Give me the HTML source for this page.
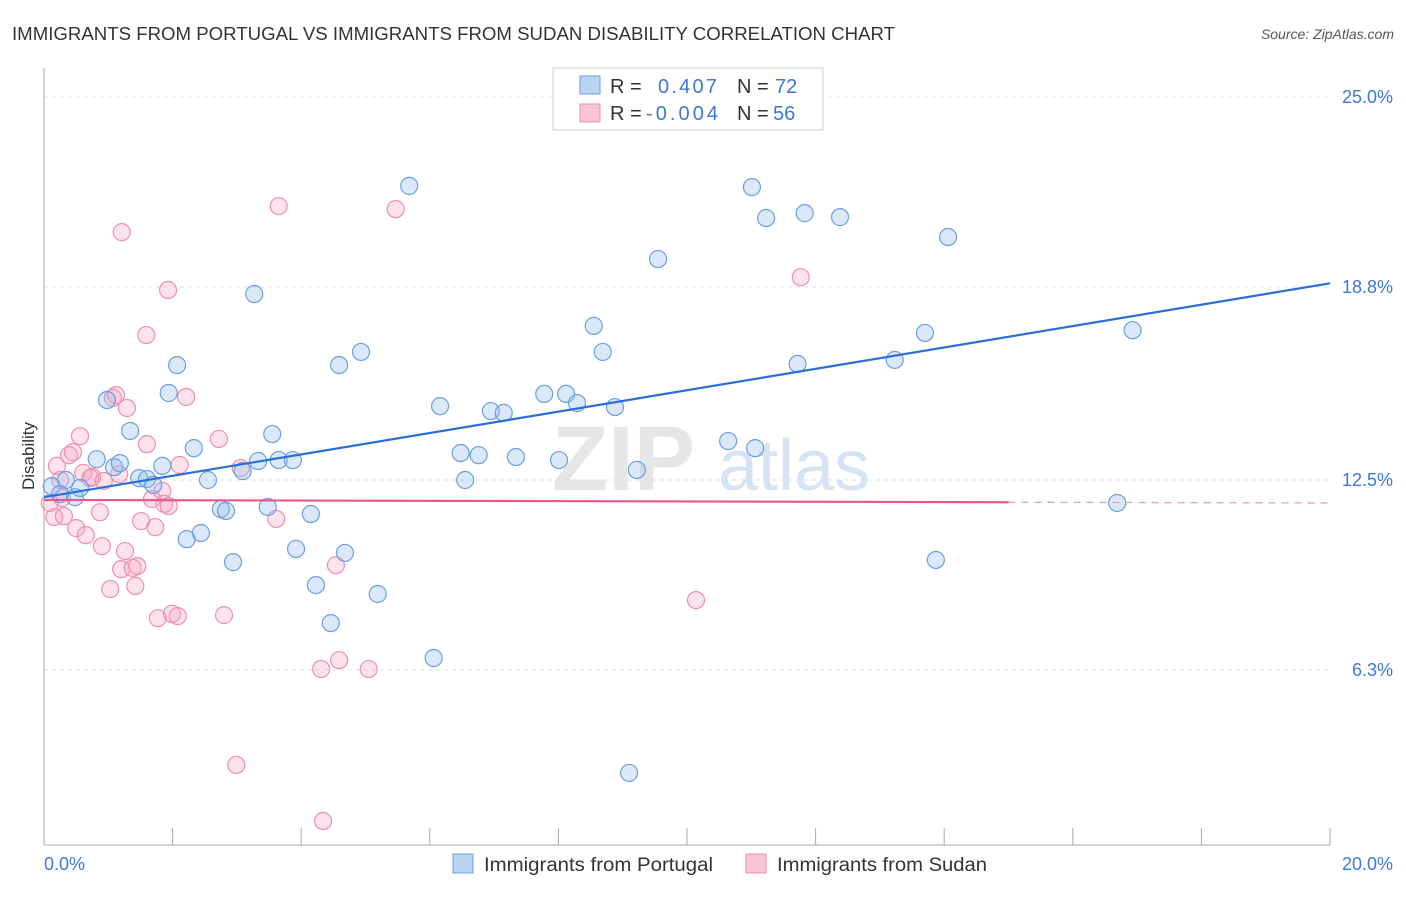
<!DOCTYPE html>
<html><head><meta charset="utf-8"><style>
body{margin:0;background:#fff;font-family:"Liberation Sans",sans-serif;}
svg text{font-family:"Liberation Sans",sans-serif;}
</style></head><body>
<svg width="1406" height="892" xmlns="http://www.w3.org/2000/svg">
<text x="12" y="40" font-size="18" fill="#333" textLength="883" lengthAdjust="spacingAndGlyphs">IMMIGRANTS FROM PORTUGAL VS IMMIGRANTS FROM SUDAN DISABILITY CORRELATION CHART</text>
<text x="1394" y="39" font-size="14" fill="#555" font-style="italic" text-anchor="end">Source: ZipAtlas.com</text>
<g><text x="552" y="490" font-size="92" fill="#e6e6e6" font-family="Liberation Serif" font-weight="bold">ZIP</text><text x="718" y="490" font-size="72" fill="#d5e3f3">atlas</text></g>
<g id="grid"></g><g id="axes"></g><g id="marks"></g>
<text x="34" y="456" font-size="17" fill="#333" text-anchor="middle" transform="rotate(-90 34 456)">Disability</text>
<g>
<rect x="553" y="68" width="270" height="62" fill="#fff" stroke="#ccc"/>
<rect x="580" y="76" width="20" height="18" fill="#b9d3f3" stroke="#6b9fe0"/>
<rect x="580" y="104" width="20" height="18" fill="#f9c5d5" stroke="#ee8fae"/>
<text x="610" y="93" font-size="20" fill="#333">R =</text>
<text x="658" y="93" font-size="20" fill="#3c78d8" textLength="59">0.407</text>
<text x="737" y="93" font-size="20" fill="#333">N =</text>
<text x="775" y="93" font-size="20" fill="#3c78d8">72</text>
<text x="610" y="120" font-size="20" fill="#333">R =</text>
<text x="646" y="120" font-size="20" fill="#3c78d8" textLength="72">-0.004</text>
<text x="737" y="120" font-size="20" fill="#333">N =</text>
<text x="773" y="120" font-size="20" fill="#3c78d8">56</text>
</g>
<g>
<rect x="453" y="854" width="20" height="19" fill="#b9d3f3" stroke="#6b9fe0"/>
<text x="484" y="871" font-size="19" fill="#333" textLength="229" lengthAdjust="spacingAndGlyphs">Immigrants from Portugal</text>
<rect x="746" y="854" width="20" height="19" fill="#f9c5d5" stroke="#ee8fae"/>
<text x="777" y="871" font-size="19" fill="#333" textLength="210" lengthAdjust="spacingAndGlyphs">Immigrants from Sudan</text>
</g>
</svg>
<script>
const yTicks=[25.0,18.8,12.5,6.3];
const yTickLabels=["25.0%","18.8%","12.5%","6.3%"];
const xMin=0,xMax=20,yMin=0,yMax=25;
const portugalX=[0.12,0.25,0.34,0.48,0.56,0.82,0.98,1.09,1.18,1.34,1.48,1.60,1.70,1.84,1.94,2.07,2.33,2.22,2.44,2.55,2.75,2.83,2.94,3.09,3.27,3.33,3.48,3.55,3.65,3.87,3.92,4.15,4.23,4.46,4.59,4.68,4.93,5.19,5.68,6.06,6.16,6.48,6.55,6.76,6.95,7.15,7.34,7.78,8.01,8.12,8.29,8.55,8.69,8.88,9.10,9.22,9.55,10.64,11.01,11.06,11.23,11.72,11.83,12.38,13.23,13.70,13.87,14.06,16.69,16.93];
const portugalY=[12.30,12.04,12.50,11.94,12.24,13.18,15.11,12.92,13.05,14.10,12.56,12.53,12.34,12.96,15.34,16.25,13.54,10.57,10.77,12.50,11.55,11.49,9.82,12.79,18.57,13.12,11.62,14.00,13.15,13.15,10.25,11.39,9.07,7.83,16.25,10.12,16.68,8.78,22.10,6.69,14.91,13.38,12.50,13.31,14.75,14.69,13.25,15.31,13.15,15.31,15.01,17.53,16.68,14.88,2.94,12.83,19.71,13.77,22.06,13.54,21.05,16.29,21.21,21.08,16.42,17.30,9.89,20.43,11.75,17.39];
const sudanX=[0.09,0.16,0.20,0.28,0.31,0.39,0.45,0.50,0.56,0.61,0.65,0.72,0.75,0.87,0.90,0.93,1.03,1.07,1.12,1.17,1.21,1.26,1.29,1.20,1.38,1.42,1.45,1.51,1.59,1.60,1.68,1.73,1.77,1.84,1.87,1.93,1.94,1.99,2.08,2.11,2.21,2.72,2.80,2.99,3.06,3.61,3.65,4.31,4.34,4.54,4.59,5.05,5.47,10.14,11.77,0.25];
const sudanY=[11.75,11.29,12.96,11.91,11.32,13.31,13.41,10.93,13.93,12.73,10.70,12.56,12.60,11.45,10.34,12.47,8.94,15.18,15.27,12.69,20.59,10.18,14.85,9.59,9.63,9.04,9.69,11.16,17.23,13.67,11.88,10.96,7.99,12.14,11.72,18.70,11.65,8.13,8.06,12.99,15.21,13.84,8.09,3.20,12.89,11.23,21.44,6.33,1.37,9.72,6.62,6.33,21.34,8.58,19.12,12.50];
const portugalTrend=[11.94,18.92];
const sudanTrend=[11.85,11.75];
const sx=v=>44+(v-xMin)/(xMax-xMin)*1286;
const sy=v=>97+(yMax-v)*30.64;
const NS="http://www.w3.org/2000/svg";
function mk(t,a,p){const e=document.createElementNS(NS,t);for(const k in a)e.setAttribute(k,a[k]);p.appendChild(e);return e;}
const grid=document.getElementById('grid'),axes=document.getElementById('axes'),marks=document.getElementById('marks');
yTicks.forEach((t,i)=>{
 const g=mk('line',{x1:44,x2:1330,y1:sy(t),y2:sy(t),stroke:'#ddd','stroke-dasharray':'4 4'},grid);
 
 
 const tx=mk('text',{x:1393,y:sy(t)+6,'font-size':18,fill:'#3c78d8','text-anchor':'end'},axes);
 tx.textContent=yTickLabels[i];
 
 
});
const la=mk('line',{x1:44,x2:44,y1:68,y2:845,stroke:'#aaa'},axes);


const ba=mk('line',{x1:44,x2:1330,y1:845,y2:845,stroke:'#aaa'},axes);


for(let i=0;i<=10;i++){const x=sx(i*2);const t=mk('line',{x1:x,x2:x,y1:828,y2:845,stroke:'#aaa'},axes);
 
 }
[[0,'0.0%',44,'start'],[20,'20.0%',1393,'end']].forEach(d=>{const t=mk('text',{x:d[2],y:870,'font-size':18,fill:'#3c78d8','text-anchor':d[3]},axes);t.textContent=d[1];
 
 });
sudanX.forEach((x,i)=>{const c=mk('circle',{cx:sx(x),cy:sy(sudanY[i]),r:8.5,fill:'rgba(244,160,188,0.3)',stroke:'#ee8fae','stroke-width':1.2},marks);
 
 });
portugalX.forEach((x,i)=>{const c=mk('circle',{cx:sx(x),cy:sy(portugalY[i]),r:8.5,fill:'rgba(150,190,238,0.35)',stroke:'#6b9fe0','stroke-width':1.2},marks);
 
 });
const sl=(v)=>sudanTrend[0]+(sudanTrend[1]-sudanTrend[0])*v/20;
const s1=mk('line',{x1:sx(0),y1:sy(sl(0)),x2:sx(15),y2:sy(sl(15)),stroke:'#e8588a','stroke-width':2.2},marks);


const s2=mk('line',{x1:sx(15),y1:sy(sl(15)),x2:sx(20),y2:sy(sl(20)),stroke:'#e8a0b8','stroke-width':1.3,'stroke-dasharray':'7 6'},marks);


const p1=mk('line',{x1:sx(0),y1:sy(portugalTrend[0]),x2:sx(20),y2:sy(portugalTrend[1]),stroke:'#2a6fd6','stroke-width':2.2},marks);


</script>
</body></html>
